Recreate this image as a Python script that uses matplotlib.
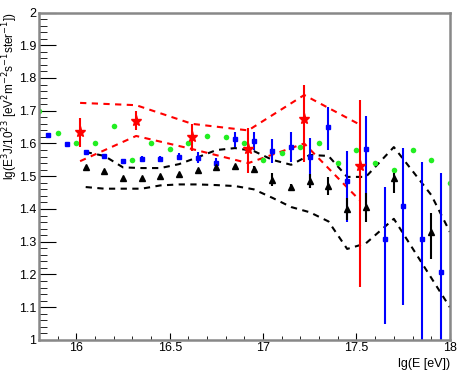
import numpy as np
import matplotlib
matplotlib.use("Agg")
import matplotlib.pyplot as plt
from matplotlib.ticker import MultipleLocator

plt.rcParams['font.family'] = ['Liberation Sans', 'DejaVu Sans']

# green circles
green_x = [15.8, 15.9, 16.0, 16.1, 16.2, 16.3, 16.4, 16.5, 16.6, 16.7, 16.8, 16.9,
           17.0, 17.1, 17.2, 17.3, 17.4, 17.5, 17.6, 17.7, 17.8, 17.9, 18.0]
green_y = [1.70, 1.632, 1.60, 1.60, 1.653, 1.55, 1.60, 1.583, 1.60, 1.623, 1.62, 1.60,
           1.55, 1.57, 1.59, 1.60, 1.54, 1.58, 1.54, 1.52, 1.58, 1.55, 1.48]

# blue squares (value, upper end, lower end)
blue_x = [15.85, 15.95, 16.05, 16.15, 16.25, 16.35, 16.45, 16.55, 16.65, 16.75, 16.85,
          16.95, 17.05, 17.15, 17.25, 17.35, 17.45, 17.55, 17.65, 17.75, 17.85, 17.95]
blue_y = [1.625, 1.598, 1.574, 1.562, 1.547, 1.553, 1.553, 1.56, 1.557, 1.54, 1.613,
          1.607, 1.577, 1.59, 1.56, 1.65, 1.486, 1.583, 1.308, 1.41, 1.308, 1.207]
blue_hi = [1.628, 1.601, 1.577, 1.566, 1.552, 1.563, 1.563, 1.57, 1.574, 1.555, 1.636,
           1.635, 1.614, 1.635, 1.617, 1.711, 1.577, 1.684, 1.467, 1.586, 1.544, 1.51]
blue_lo = [1.622, 1.595, 1.571, 1.558, 1.542, 1.543, 1.543, 1.55, 1.540, 1.525, 1.590,
           1.580, 1.540, 1.545, 1.464, 1.58, 1.36, 1.412, 1.049, 1.107, 0.9, 0.9]

# black triangles
black_x = [16.05, 16.15, 16.25, 16.35, 16.45, 16.55, 16.65, 16.75, 16.85, 16.95,
           17.05, 17.15, 17.25, 17.35, 17.45, 17.55, 17.7, 17.9]
black_y = [1.528, 1.516, 1.494, 1.494, 1.50, 1.506, 1.519, 1.528, 1.53, 1.522,
           1.49, 1.467, 1.486, 1.47, 1.40, 1.405, 1.494, 1.33]
black_hi = [1.530, 1.518, 1.496, 1.496, 1.502, 1.508, 1.521, 1.530, 1.532, 1.532,
            1.51, 1.477, 1.508, 1.497, 1.435, 1.45, 1.51, 1.387]
black_lo = [1.526, 1.514, 1.492, 1.492, 1.498, 1.504, 1.517, 1.526, 1.528, 1.512,
            1.47, 1.457, 1.464, 1.443, 1.365, 1.36, 1.45, 1.247]

# black dashed band
band_x = [16.05, 16.15, 16.25, 16.35, 16.45, 16.55, 16.65, 16.75, 16.85, 16.95,
          17.05, 17.15, 17.25, 17.35, 17.45, 17.55, 17.7, 17.9, 18.0]
band_up = [1.574, 1.562, 1.527, 1.525, 1.525, 1.537, 1.558, 1.58, 1.586, 1.577,
           1.55, 1.535, 1.565, 1.562, 1.498, 1.498, 1.589, 1.443, 1.33]
band_low = [1.467, 1.462, 1.462, 1.462, 1.472, 1.475, 1.475, 1.473, 1.47, 1.46,
            1.434, 1.406, 1.39, 1.362, 1.278, 1.295, 1.37, 1.19, 1.10]

# red stars
red_x = [16.02, 16.32, 16.62, 16.92, 17.22, 17.52]
red_y = [1.635, 1.669, 1.62, 1.583, 1.674, 1.531]
red_hi = [1.678, 1.70, 1.66, 1.647, 1.779, 1.733]
red_lo = [1.589, 1.641, 1.577, 1.51, 1.543, 1.162]
red_up = [1.724, 1.717, 1.66, 1.64, 1.748, 1.657]
red_low = [1.546, 1.623, 1.583, 1.54, 1.60, 1.425]

fig = plt.figure(figsize=(4.6, 3.71), dpi=100)
ax = fig.add_axes([0.0848, 0.0836, 0.8932, 0.8827])

dash = (0, (3, 2.6))
ax.plot(band_x, band_up, color="black", ls=dash, lw=1.5)
ax.plot(band_x, band_low, color="black", ls=dash, lw=1.5)
ax.plot(red_x, red_up, color="red", ls=dash, lw=1.5)
ax.plot(red_x, red_low, color="red", ls=dash, lw=1.5)

ax.plot(green_x, green_y, "o", color="#22ee22", ms=4, mec="none")

by = np.array(blue_y)
ax.errorbar(blue_x, by, yerr=[by - np.array(blue_lo), np.array(blue_hi) - by],
            fmt="s", color="blue", ms=3.3, elinewidth=1.5, capsize=0)
ky = np.array(black_y)
ax.errorbar(black_x, ky, yerr=[ky - np.array(black_lo), np.array(black_hi) - ky],
            fmt="^", color="black", ms=4.5, elinewidth=1.5, capsize=0)
ry = np.array(red_y)
ax.errorbar(red_x, ry, yerr=[ry - np.array(red_lo), np.array(red_hi) - ry],
            fmt="*", color="red", ms=8, elinewidth=1.5, capsize=0)

ax.set_xlim(15.8, 18)
ax.set_ylim(1, 2)
ax.xaxis.set_minor_locator(MultipleLocator(0.1))
ax.yaxis.set_minor_locator(MultipleLocator(0.02))
ax.set_xticks([16, 16.5, 17, 17.5, 18])
ax.set_xticklabels(["16", "16.5", "17", "17.5", "18"])
ax.set_yticks(np.arange(1, 2.01, 0.1))
ax.set_yticklabels(["1", "1.1", "1.2", "1.3", "1.4", "1.5", "1.6", "1.7", "1.8", "1.9", "2"])
ax.tick_params(axis="both", which="both", direction="in", labelsize=9, color="black")
ax.tick_params(axis="x", which="major", length=5, pad=1.5)
ax.tick_params(axis="x", which="minor", length=3)
ax.tick_params(axis="y", which="major", length=12, pad=2)
ax.tick_params(axis="y", which="minor", length=6)
for sp in ax.spines.values():
    sp.set_color("#888888")
    sp.set_linewidth(1.8)

ax.set_xlabel("lg(E [eV])", loc="right", fontsize=9, labelpad=2.5)
ax.set_ylabel(r"lg(E$^{3}$J/10$^{23}$ [eV$^{2}$m$^{-2}$s$^{-1}$ster$^{-1}$])",
              loc="top", fontsize=8.5)
ax.yaxis.set_label_coords(-0.046, 1.0)

fig.savefig("out.png", dpi=100)
